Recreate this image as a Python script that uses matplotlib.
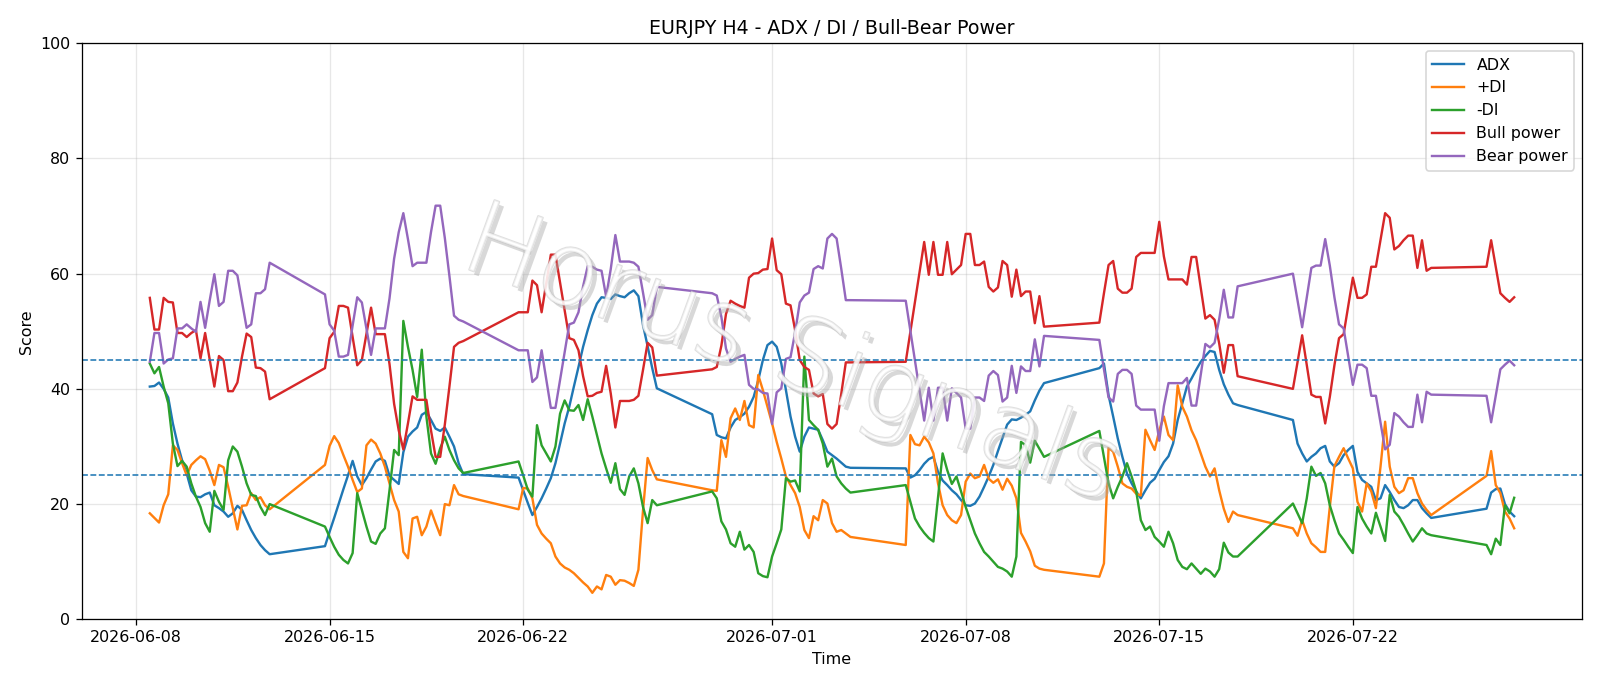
import matplotlib
matplotlib.use("Agg")
import matplotlib.pyplot as plt
import matplotlib.patheffects as pe
import pandas as pd

# ---- data (H4 bars, weekdays + Sunday 20:00 open) ----
start_time = "2026-06-08 12:00"
end_time = "2026-07-27 20:00"

adx = [40.4, 40.5, 41.1, 40.0, 38.5, 34.0, 30.5, 27.6, 25.3, 22.4, 21.3, 21.2, 21.7, 22.0, 19.8, 19.3, 18.7, 17.8, 18.4, 19.7, 19.0, 17.2, 15.5, 14.1, 12.9, 12.0, 11.3,
       12.7, 15.2, 17.6, 20.1, 22.6, 25.0, 27.5, 24.8, 23.3, 24.5, 26.0, 27.4, 27.9, 27.5, 24.9, 24.2, 23.5, 29.0, 31.7, 32.6, 33.3, 35.5, 36.0, 34.6, 33.1, 32.7, 33.3, 31.7, 30.0, 27.1, 25.2,
       24.6, 22.4, 20.2, 18.1, 19.5, 21.0, 22.7, 24.5, 27.1, 30.5, 34.0, 36.9, 40.4, 43.8, 47.3, 50.2, 52.8, 54.8, 55.9, 55.8, 55.6, 56.4, 56.1, 55.9, 56.6, 57.1, 56.1, 51.1, 47.4, 43.6, 40.1,
       35.6, 32.0, 31.6, 31.4, 33.3, 34.6, 35.1, 35.7, 36.9, 38.6, 41.5, 45.0, 47.6, 48.2, 47.3, 44.4, 39.8, 35.2, 31.7, 29.1, 31.7, 33.3, 33.1, 32.9, 31.1, 29.1, 28.5, 27.9, 27.2, 26.5, 26.3,
       26.2, 24.6, 25.0, 25.9, 27.0, 27.8, 28.2, 25.6, 24.1, 23.3, 22.4, 21.7, 20.7, 19.8, 19.7, 20.1, 21.3, 23.0, 24.8, 26.8, 29.2, 31.5, 33.8, 34.7, 34.6, 35.0, 35.5, 36.1, 38.0, 39.7, 41.0,
       43.6, 44.4, 38.9, 35.2, 31.4, 28.2, 25.3, 23.6, 22.2, 21.0, 22.4, 23.7, 24.4, 25.9, 27.3, 28.3, 30.5, 34.6, 37.5, 40.4, 41.8, 43.3, 44.7, 45.7, 46.6, 46.4, 43.3, 40.8, 39.0, 37.5, 37.2,
       34.6, 30.5, 28.8, 27.4, 28.2, 28.8, 29.7, 30.1, 27.4, 26.5, 27.1, 28.5, 29.4, 30.1, 25.6, 24.2, 23.6, 23.0, 20.7, 21.0, 23.3, 22.1, 20.7, 19.5, 19.3, 19.8, 20.7, 20.7, 19.3, 18.4, 17.6,
       19.2, 22.0, 22.6, 22.7, 20.0, 18.7, 17.9]

plus_di = [18.4, 17.6, 16.8, 19.8, 21.7, 30.2, 29.4, 27.1, 25.0, 26.8, 27.6, 28.3, 27.8, 25.8, 23.3, 26.8, 26.4, 23.0, 19.3, 15.6, 19.7, 19.8, 21.9, 20.7, 21.2, 19.8, 19.1,
           26.8, 30.1, 31.8, 30.6, 28.5, 26.5, 24.2, 22.1, 22.7, 30.2, 31.2, 30.5, 28.8, 26.5, 23.6, 20.7, 18.7, 11.7, 10.6, 17.5, 17.8, 14.6, 16.1, 18.9, 16.7, 14.6, 20.0, 19.8, 23.3, 21.7, 21.4,
           19.1, 22.8, 22.7, 21.0, 16.4, 14.9, 14.0, 13.2, 10.9, 9.7, 9.0, 8.6, 8.0, 7.2, 6.4, 5.7, 4.6, 5.7, 5.2, 7.7, 7.4, 6.0, 6.8, 6.7, 6.3, 5.8, 8.6, 18.9, 28.0, 25.9, 24.3,
           22.4, 22.3, 31.1, 28.2, 34.9, 36.6, 34.6, 37.9, 33.7, 33.3, 42.4, 39.8, 36.9, 34.0, 30.8, 27.9, 24.8, 23.3, 21.9, 19.5, 15.5, 14.1, 17.9, 17.2, 20.7, 20.1, 16.7, 15.2, 15.5, 14.9, 14.3,
           12.9, 32.0, 30.4, 30.2, 31.7, 30.7, 28.8, 23.6, 19.8, 18.1, 17.2, 16.7, 18.1, 23.9, 25.3, 24.5, 24.8, 26.8, 24.4, 23.7, 24.3, 22.5, 24.4, 23.2, 21.0, 15.0, 13.5, 11.8, 9.3, 8.8, 8.6,
           7.4, 9.7, 29.8, 29.1, 26.5, 23.6, 23.0, 22.7, 21.8, 21.5, 32.9, 31.1, 29.4, 32.8, 35.2, 32.0, 31.1, 40.6, 36.9, 35.2, 32.8, 31.1, 28.8, 26.5, 24.8, 26.2, 22.4, 19.2, 16.9, 18.7, 18.1,
           15.8, 14.5, 17.2, 14.9, 13.2, 12.5, 11.7, 11.7, 19.5, 26.6, 28.2, 29.7, 27.9, 26.2, 20.4, 18.7, 23.6, 22.2, 19.3, 26.5, 34.3, 26.5, 23.0, 21.9, 22.4, 24.5, 24.5, 21.9, 20.1, 19.0, 18.1,
           24.9, 29.2, 23.3, 21.9, 18.7, 17.5, 15.8]

minus_di = [44.4, 42.7, 43.8, 40.4, 37.5, 30.5, 26.6, 27.5, 26.5, 23.6, 21.3, 19.5, 16.7, 15.2, 22.3, 20.4, 19.0, 27.6, 30.0, 29.1, 26.5, 23.6, 21.6, 21.4, 19.5, 18.1, 20.0,
            16.1, 14.3, 12.6, 11.2, 10.3, 9.7, 11.5, 21.9, 19.0, 16.1, 13.5, 13.1, 14.9, 15.8, 22.4, 29.4, 28.5, 51.8, 47.3, 43.3, 38.6, 46.8, 35.2, 28.8, 27.0, 29.7, 31.7, 29.4, 27.6, 26.2, 25.4,
            27.4, 25.0, 22.5, 21.3, 33.7, 30.2, 28.8, 27.4, 30.0, 35.7, 38.0, 36.3, 36.2, 37.2, 34.6, 38.2, 35.2, 32.0, 28.8, 26.2, 23.7, 27.1, 22.6, 21.6, 24.8, 26.2, 23.6, 19.5, 16.7, 20.7, 19.8,
            22.2, 21.0, 17.0, 15.6, 13.2, 12.6, 15.2, 12.1, 12.9, 11.7, 8.0, 7.5, 7.3, 10.9, 13.2, 15.6, 24.5, 23.9, 24.1, 22.2, 45.6, 34.6, 33.7, 32.9, 30.5, 26.5, 27.9, 24.8, 23.6, 22.7, 22.0,
            23.3, 20.4, 17.5, 16.1, 15.0, 14.1, 13.5, 21.2, 28.8, 25.9, 23.5, 24.8, 22.2, 19.5, 17.2, 14.9, 13.2, 11.7, 10.9, 10.0, 9.1, 8.8, 8.3, 7.4, 10.9, 30.8, 30.2, 27.2, 31.0, 29.6, 28.2,
            32.7, 28.2, 23.6, 21.0, 23.0, 24.8, 27.1, 24.8, 22.2, 17.2, 15.5, 16.1, 14.3, 13.5, 12.6, 15.2, 13.2, 10.3, 9.1, 8.7, 9.7, 8.8, 7.9, 8.8, 8.3, 7.4, 8.7, 13.3, 11.6, 10.9, 10.9,
            20.1, 18.4, 16.7, 21.0, 26.5, 24.9, 25.4, 23.6, 19.8, 17.2, 14.9, 13.8, 12.6, 11.5, 19.5, 17.5, 16.1, 14.9, 18.5, 16.1, 13.6, 21.6, 18.7, 17.8, 16.4, 14.9, 13.5, 14.6, 15.8, 14.9, 14.6,
            12.9, 11.3, 14.0, 12.9, 19.8, 18.4, 21.1]

bull_power = [55.8, 50.3, 50.3, 55.8, 55.1, 55.0, 49.7, 49.7, 49.0, 49.7, 50.2, 45.3, 49.7, 45.1, 40.4, 45.7, 45.0, 39.6, 39.6, 41.1, 45.6, 49.6, 49.0, 43.7, 43.6, 43.0, 38.2,
              43.6, 48.8, 49.9, 54.4, 54.4, 54.1, 49.0, 44.1, 45.0, 49.6, 54.1, 49.5, 49.5, 49.5, 44.3, 37.4, 32.8, 29.5, 34.0, 38.7, 38.1, 38.1, 38.1, 32.8, 28.2, 28.2, 33.8, 40.4, 47.3, 48.0, 48.3,
              53.3, 53.3, 53.3, 58.8, 58.0, 53.3, 58.3, 63.3, 63.3, 58.5, 53.6, 48.8, 48.5, 46.7, 42.2, 38.7, 38.8, 39.3, 39.5, 44.0, 39.2, 33.3, 37.9, 37.9, 37.9, 38.1, 38.8, 43.3, 48.0, 47.2, 42.3,
              43.4, 43.8, 47.5, 53.0, 55.3, 54.8, 54.4, 54.1, 59.3, 60.0, 60.1, 60.7, 60.8, 66.1, 60.6, 59.9, 54.8, 54.5, 50.2, 45.0, 43.8, 43.3, 39.2, 38.7, 39.1, 33.9, 33.1, 33.9, 39.1, 44.6, 44.6,
              44.7, 49.9, 55.1, 60.3, 65.5, 59.8, 65.5, 59.8, 59.8, 65.5, 59.9, 60.7, 61.5, 66.9, 66.9, 61.5, 61.5, 62.1, 57.7, 56.9, 57.6, 62.2, 61.5, 56.0, 60.7, 56.1, 56.9, 56.9, 51.4, 56.1, 50.8,
              51.5, 56.6, 61.5, 62.2, 57.4, 56.7, 56.7, 57.4, 62.9, 63.6, 63.6, 63.6, 63.6, 69.0, 63.0, 59.0, 59.0, 59.0, 59.0, 58.1, 62.9, 62.9, 57.5, 52.2, 52.8, 52.0, 47.9, 42.8, 47.6, 47.6, 42.2,
              40.0, 44.7, 49.3, 44.2, 39.0, 38.6, 38.6, 34.0, 38.6, 44.1, 48.8, 49.5, 54.4, 59.3, 55.8, 55.8, 56.4, 61.2, 61.2, 65.9, 70.5, 69.7, 64.2, 64.8, 65.8, 66.6, 66.6, 61.0, 65.8, 60.5, 61.0,
              61.2, 65.8, 61.2, 56.6, 55.8, 55.1, 55.9]

bear_power = [44.7, 49.7, 49.7, 44.4, 45.1, 45.3, 50.5, 50.5, 51.2, 50.5, 49.9, 55.1, 50.6, 55.4, 59.9, 54.4, 55.1, 60.5, 60.5, 59.7, 55.1, 50.6, 51.2, 56.6, 56.6, 57.3, 61.9,
              56.4, 51.2, 50.1, 45.6, 45.6, 45.9, 51.0, 55.9, 55.0, 50.4, 45.9, 50.5, 50.5, 50.5, 55.7, 62.6, 67.2, 70.5, 66.0, 61.3, 61.9, 61.9, 61.9, 67.2, 71.8, 71.8, 66.2, 59.6, 52.7, 52.0, 51.7,
              46.7, 46.7, 46.7, 41.2, 42.0, 46.7, 41.7, 36.7, 36.7, 41.5, 46.4, 51.2, 51.5, 53.3, 57.8, 61.3, 61.2, 60.7, 60.5, 56.0, 60.8, 66.7, 62.1, 62.1, 62.1, 61.9, 61.2, 56.7, 52.0, 52.8, 57.7,
              56.6, 56.2, 52.5, 47.0, 44.7, 45.2, 45.6, 45.9, 40.7, 40.0, 39.9, 39.3, 39.2, 33.9, 39.4, 40.1, 45.2, 45.5, 49.8, 55.0, 56.2, 56.7, 60.8, 61.3, 60.9, 66.1, 66.9, 66.1, 60.9, 55.4, 55.4,
              55.3, 50.1, 44.9, 39.7, 34.5, 40.2, 34.5, 40.2, 40.2, 34.5, 40.1, 39.3, 38.5, 33.1, 33.1, 38.5, 38.5, 37.9, 42.3, 43.1, 42.4, 37.8, 38.5, 44.0, 39.3, 43.9, 43.1, 43.1, 48.6, 43.9, 49.2,
              48.5, 43.4, 38.5, 37.8, 42.6, 43.3, 43.3, 42.6, 37.1, 36.4, 36.4, 36.4, 36.4, 31.0, 37.0, 41.0, 41.0, 41.0, 41.0, 41.9, 37.1, 37.1, 42.5, 47.8, 47.2, 48.0, 52.1, 57.2, 52.4, 52.4, 57.8,
              60.0, 55.3, 50.7, 55.8, 61.0, 61.4, 61.4, 66.0, 61.4, 55.9, 51.2, 50.5, 45.6, 40.7, 44.2, 44.2, 43.6, 38.8, 38.8, 34.1, 29.5, 30.3, 35.8, 35.2, 34.2, 33.4, 33.4, 39.0, 34.2, 39.5, 39.0,
              38.8, 34.2, 38.8, 43.4, 44.2, 44.9, 44.1]

thresholds = [25, 45]
series_names = ["ADX", "+DI", "-DI", "Bull power", "Bear power"]
watermark = "Horus Signals"

# ---- time axis ----
t = pd.date_range(start_time, end_time, freq="4h")
t = t[(t.dayofweek < 5) | ((t.dayofweek == 6) & (t.hour == 20))]

DPI = 1600 / 14
fig = plt.figure(figsize=(14, 686 / DPI), dpi=DPI)
ax = fig.add_axes([0.051, 0.0972, 0.938, 0.8398])

colors = ["#1f77b4", "#ff7f0e", "#2ca02c", "#d62728", "#9467bd"]
for vals, name, c in zip([adx, plus_di, minus_di, bull_power, bear_power], series_names, colors):
    n = min(len(vals), len(t))
    ax.plot(t[:n], vals[:n], color=c, lw=1.5, label=name)

for th in thresholds:
    ax.axhline(th, color="#1f77b4", ls="--", lw=1.0)

ax.set_ylim(0, 100)
ax.grid(True, alpha=0.3)
ax.set_title("EURJPY H4 - ADX / DI / Bull-Bear Power")
ax.set_xlabel("Time")
ax.set_ylabel("Score")
ax.legend(loc="upper right")

# watermark: light outlined letters with soft shadow
ax.text(0.473, 0.455, watermark, transform=ax.transAxes, fontsize=64,
        rotation=-20, ha="center", va="center", color="white", alpha=0.5,
        fontweight="light",
        path_effects=[pe.withSimplePatchShadow(offset=(3, -3), shadow_rgbFace="#aaaaaa", alpha=0.45),
                      pe.Stroke(linewidth=1.2, foreground="#c0c0c0"), pe.Normal()],
        zorder=10)

fig.savefig("out.png", dpi=DPI)
